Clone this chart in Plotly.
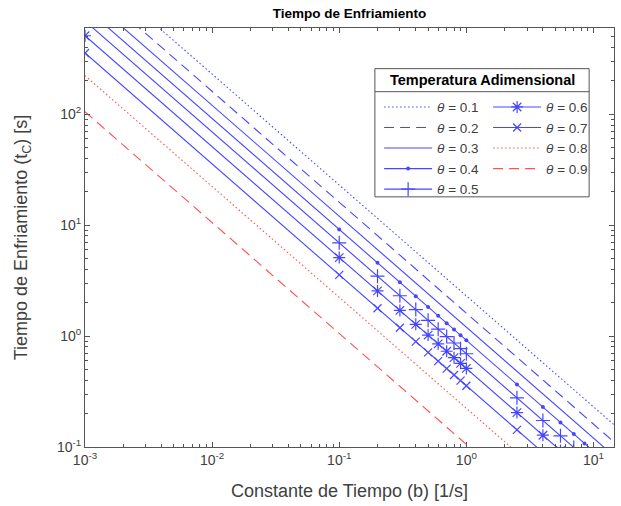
import plotly.graph_objects as go

# ---- data ----
b = [0.001, 0.1, 0.2, 0.3, 0.4, 0.5, 0.6, 0.7, 0.8, 0.9, 1.0,
     2.5, 4.0, 5.5, 7.0, 8.5, 10.0, 11.5, 13.0, 14.5]

t_01 = [2302.6, 23.03, 11.51, 7.675, 5.756, 4.605, 3.838, 3.289, 2.878, 2.558, 2.303,
        0.921, 0.576, 0.4187, 0.3289, 0.2709, 0.2303, 0.2002, 0.1771, 0.1588]
t_02 = [1609.4, 16.09, 8.047, 5.365, 4.024, 3.219, 2.682, 2.299, 2.012, 1.788, 1.609,
        0.6438, 0.4024, 0.2926, 0.2299, 0.1893, 0.1609, 0.1400, 0.1238, 0.1110]
t_03 = [1204.0, 12.04, 6.020, 4.013, 3.010, 2.408, 2.007, 1.720, 1.505, 1.338, 1.204,
        0.4816, 0.3010, 0.2189, 0.1720, 0.1416, 0.1204, 0.1047, 0.0926, 0.0830]
t_04 = [916.3, 9.163, 4.581, 3.054, 2.291, 1.833, 1.527, 1.309, 1.145, 1.018, 0.9163,
        0.3665, 0.2291, 0.1666, 0.1309, 0.1078, 0.0916, 0.0797, 0.0705, 0.0632]
t_05 = [693.1, 6.931, 3.466, 2.310, 1.733, 1.386, 1.155, 0.9902, 0.8664, 0.7702, 0.6931,
        0.2773, 0.1733, 0.1260, 0.0990, 0.0815, 0.0693, 0.0603, 0.0533, 0.0478]
t_06 = [510.8, 5.108, 2.554, 1.703, 1.277, 1.022, 0.8514, 0.7298, 0.6385, 0.5676, 0.5108,
        0.2043, 0.1277, 0.0929, 0.0730, 0.0601, 0.0511, 0.0444, 0.0393, 0.0352]
t_07 = [356.7, 3.567, 1.783, 1.189, 0.8917, 0.7134, 0.5945, 0.5095, 0.4458, 0.3963, 0.3567,
        0.1427, 0.0892, 0.0648, 0.0510, 0.0420, 0.0357, 0.0310, 0.0274, 0.0246]
t_08 = [223.1, 2.231, 1.116, 0.7438, 0.5579, 0.4463, 0.3719, 0.3188, 0.2789, 0.2479, 0.2231,
        0.0893, 0.0558, 0.0406, 0.0319, 0.0263, 0.0223, 0.0194, 0.0172, 0.0154]
t_09 = [105.4, 1.054, 0.5268, 0.3512, 0.2634, 0.2107, 0.1756, 0.1505, 0.1317, 0.1171, 0.1054,
        0.0421, 0.0263, 0.0192, 0.0151, 0.0124, 0.0105, 0.0092, 0.0081, 0.0073]

theta_labels = ["0.1", "0.2", "0.3", "0.4", "0.5", "0.6", "0.7", "0.8", "0.9"]
series = [t_01, t_02, t_03, t_04, t_05, t_06, t_07, t_08, t_09]

x_tickvals = [1e-3, 1e-2, 1e-1, 1e0, 1e1]
x_ticktext = ["10<sup>-3</sup>", "10<sup>-2</sup>", "10<sup>-1</sup>", "10<sup>0</sup>", "10<sup>1</sup>"]
y_tickvals = [1e-1, 1e0, 1e1, 1e2]
y_ticktext = ["10<sup>-1</sup>", "10<sup>0</sup>", "10<sup>1</sup>", "10<sup>2</sup>"]

# ---- styles ----
BLUE = "rgb(70,70,255)"
RED = "rgb(255,80,80)"
DOT = "1.5px,2.5px"
DASH = "10px,6px"
styles = [
    dict(color=BLUE, dash=DOT, marker=None),
    dict(color=BLUE, dash=DASH, marker=None),
    dict(color=BLUE, dash="solid", marker=None),
    dict(color=BLUE, dash="solid", marker=dict(symbol="circle", size=4)),
    dict(color=BLUE, dash="solid", marker=dict(symbol="cross-thin", size=10, line=dict(width=1.2, color=BLUE))),
    dict(color=BLUE, dash="solid", marker=dict(symbol="asterisk", size=10, line=dict(width=1.2, color=BLUE))),
    dict(color=BLUE, dash="solid", marker=dict(symbol="x-thin", size=8, line=dict(width=1.2, color=BLUE))),
    dict(color=RED, dash=DOT, marker=None),
    dict(color=RED, dash=DASH, marker=None),
]

fig = go.Figure()
for i, (lab, ys, st) in enumerate(zip(theta_labels, series, styles)):
    kw = dict(
        x=b, y=ys, name=f"<i>θ</i> = {lab}",
        line=dict(color=st["color"], width=1.1, dash=st["dash"]),
        legend="legend" if i < 5 else "legend2",
        legendgroup=f"g{i}",
    )
    if st["marker"] is not None:
        m = dict(st["marker"])
        m.setdefault("color", st["color"])
        kw["mode"] = "lines+markers"
        kw["marker"] = m
    else:
        kw["mode"] = "lines"
    fig.add_trace(go.Scatter(**kw))

FONT = "Liberation Sans, Arial, sans-serif"
AX = "#404040"

axis_common = dict(
    type="log", showgrid=False, zeroline=False,
    showline=True, linecolor="#555555", linewidth=1, mirror="ticks",
    ticks="inside", ticklen=5, tickcolor="#555555", tickwidth=1,
    tickfont=dict(family=FONT, size=14, color=AX),
    tickmode="array",
)

minor_x = [m * 10 ** e for e in range(-3, 2) for m in range(2, 10) if m * 10 ** e <= 14.5]
minor_y = [m * 10 ** e for e in range(-1, 3) for m in range(2, 10) if m * 10 ** e <= 600]

fig.update_xaxes(
    **axis_common, tickvals=x_tickvals, ticktext=x_ticktext,
    range=[-3, 1.1614],
    minor=dict(tickmode="array", tickvals=minor_x, ticks="inside", ticklen=3, tickcolor="#555555"),
    title=dict(text="Constante de Tiempo (b) [1/s]", font=dict(family=FONT, size=18, color=AX), standoff=17),
)
fig.update_yaxes(
    **axis_common, tickvals=y_tickvals, ticktext=y_ticktext,
    range=[-1, 2.778],
    minor=dict(tickmode="array", tickvals=minor_y, ticks="inside", ticklen=3, tickcolor="#555555"),
    title=dict(text="Tiempo de Enfriamiento (t<sub>C</sub>) [s]", font=dict(family=FONT, size=18, color=AX), standoff=24),
)

# legend box geometry (paper coords)
L, R, T, B_, SEP = 0.548, 0.953, 0.903, 0.597, 0.848

leg_common = dict(
    bgcolor="rgba(0,0,0,0)", borderwidth=0,
    font=dict(family=FONT, size=13.5, color=AX),
    yanchor="top", xanchor="left", tracegroupgap=0, itemwidth=48,
)
fig.update_layout(
    width=621, height=506,
    margin=dict(l=85, r=7, t=28, b=59),
    paper_bgcolor="white", plot_bgcolor="white",
    title=dict(text="<b>Tiempo de Enfriamiento</b>", x=0.5, xref="paper", xanchor="center",
               y=0.973, yanchor="middle", font=dict(family=FONT, size=13.5, color="#000000")),
    legend=dict(**leg_common, x=0.556, y=0.848),
    legend2=dict(**leg_common, x=0.762, y=0.848),
    shapes=[
        dict(type="rect", xref="paper", yref="paper", x0=L, x1=R, y0=B_, y1=T,
             line=dict(color="#555555", width=1), fillcolor="white", layer="below"),
        dict(type="line", xref="paper", yref="paper", x0=L, x1=R, y0=SEP, y1=SEP,
             line=dict(color="#555555", width=1)),
    ],
    annotations=[
        dict(text="<b>Temperatura Adimensional</b>", xref="paper", yref="paper",
             x=(L + R) / 2, y=(T + SEP) / 2, xanchor="center", yanchor="middle",
             showarrow=False, font=dict(family=FONT, size=14.5, color="#000000")),
    ],
)

fig.write_html("out.html")
